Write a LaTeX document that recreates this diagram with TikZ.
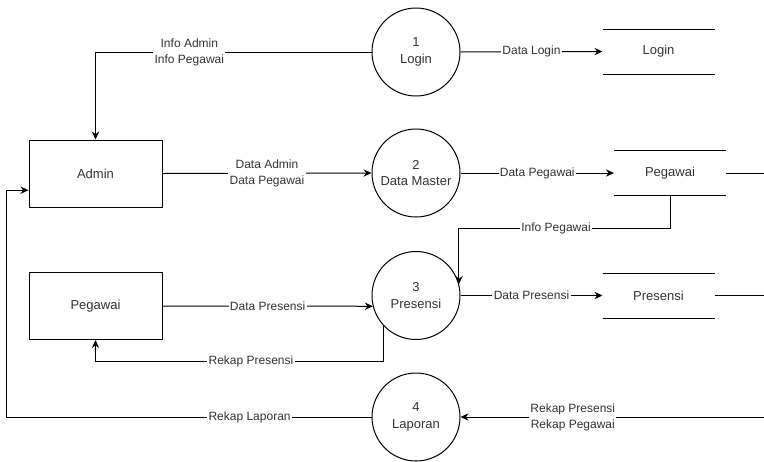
\documentclass[tikz,border=0pt]{standalone}
\usepackage{fontspec}
\setmainfont{Liberation Sans}
\usetikzlibrary{arrows.meta}
\tikzstyle{entity}=[rectangle,draw,minimum width=99.75pt,minimum height=50.25pt,text=black!80,font=\fontsize{9.75}{12.5}\selectfont]
\tikzstyle{process}=[circle,draw,minimum size=66pt,inner sep=0pt,align=center,text=black!80,font=\fontsize{9.75}{12.5}\selectfont]
\tikzstyle{store}=[rectangle,minimum width=83.25pt,minimum height=33pt,text=black!80,font=\fontsize{9.75}{12.5}\selectfont]
\tikzstyle{flow}=[draw,-{Stealth[length=6pt,width=5.5pt]}]
\tikzstyle{flowlabel}=[fill=white,inner sep=1pt,align=center,text=black!80,font=\fontsize{9}{12}\selectfont]

\begin{document}
\begin{tikzpicture}[x=0.75pt,y=-0.75pt,line width=0.75pt]
    \useasboundingbox (0,0) rectangle (764,461);
    \node[entity] (admin) at (95.5,173.5) {Admin};
    \node[entity] (pegawai) at (95.5,306) {Pegawai};
    \node[process] (p1) at (416,52) {1\\Login};
    \node[process] (p2) at (416,173) {2\\Data Master};
    \node[process] (p3) at (416,295.5) {3\\Presensi};
    \node[process] (p4) at (416,417) {4\\Laporan};
    \node[store] (s1) at (658.5,51.5) {Login};
    \node[store] (s2) at (670,173) {Pegawai};
    \node[store] (s3) at (658.5,295.5) {Presensi};
    \foreach \s in {s1,s2,s3} {
        \draw (\s.north west) -- (\s.north east);
        \draw (\s.south west) -- (\s.south east);
    };
    \coordinate (s2 out) at (764,173);
    \coordinate (s3 out) at (764,295.5);
    \coordinate (rekap in) at (764,417);
    \draw (s2.east) -- (s2 out);
    \draw (s3.east) -- (s3 out);

    \draw[flow] (p1.west) -| node[flowlabel,pos=0.33]{Info Admin\\Info Pegawai} (admin.north);
    \draw[flow] (admin.east) -- node[flowlabel]{Data Admin\\Data Pegawai} (p2.west);
    \draw[flow] (pegawai.east) -- node[flowlabel]{Data Presensi} (p3.194);
    \draw[flow] (p3.223) -- ++(0,36) -| node[flowlabel,pos=0.23]{Rekap Presensi} (pegawai.south);
    \draw[flow] (p4.west) -- node[flowlabel,pos=0.334]{Rekap Laporan} ++(-365,0) |- (admin.194);
    \draw[flow] (p1.east) -- node[flowlabel]{Data Login} (s1.west);
    \draw[flow] (p2.east) -- node[flowlabel]{Data Pegawai} (s2.west);
    \draw[flow] (s2.south) -- ++(0,33) -| node[flowlabel,pos=0.27]{Info Pegawai} (p3.15);
    \draw[flow] (p3.east) -- node[flowlabel]{Data Presensi} (s3.west);
    \draw[flow] (rekap in) -- node[flowlabel,pos=0.63]{Rekap Presensi\\Rekap Pegawai} (p4.east);
\end{tikzpicture}
\end{document}
